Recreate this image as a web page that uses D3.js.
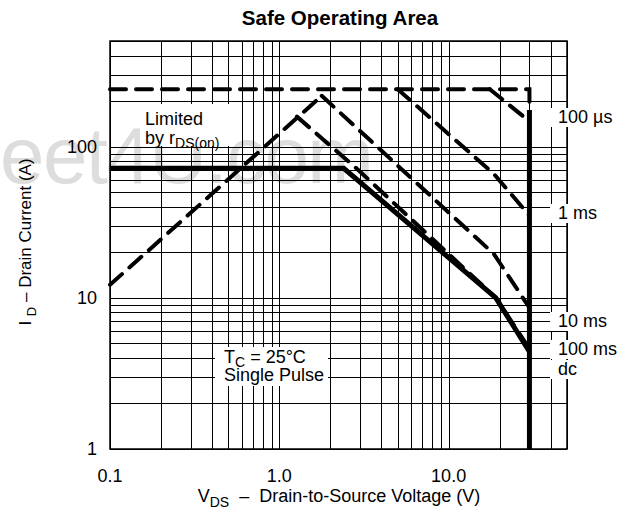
<!DOCTYPE html>
<html>
<head>
<meta charset="utf-8">
<title>Safe Operating Area</title>
<script src="https://d3js.org/d3.v7.min.js"></script>
<style>
  body { margin: 0; background: #fff; }
  text { font-family: "Liberation Sans", Arial, sans-serif; fill: #000; }
</style>
</head>
<body>
<div id="soa"></div>
<script>

// axis ticks
var xTickValues = [0.1, 1, 10]
var xTickLabels = ["0.1", "1.0", "10.0"]
var yTickValues = [1, 10, 100]
var yTickLabels = ["1", "10", "100"]

// boundary curves, [VDS (V), ID (A)]
var idmLimit = [[0.1, 240], [30, 240], [30, 175]]
var rdsLimit = [[0.1, 12.2], [1.78, 217]]
var curve100us = [[17.5, 240], [30, 147]]
var curve1ms = [[5, 240], [18.5, 66], [30, 35]]
var curve10ms = [[1.78, 217], [18.5, 19.5], [30, 8.6]]
var curve100ms = [[1.27, 158], [2.85, 72], [19, 10], [30, 4.6]]
var curveDc = [[0.1, 72], [2.4, 72], [19, 10], [30, 4.4]]
var bvdssLimit = [[30, 175], [30, 1]]

var pulseLabels = ["100 µs", "1 ms", "10 ms", "100 ms", "dc"]

// set the dimensions of the graph
var width = 629
var height = 517

var svg = d3.select("#soa")
  .append("svg")
    .attr("width", width)
    .attr("height", height)

var x = d3.scaleLog().domain([0.1, 50]).range([110, 567])
var y = d3.scaleLog().domain([1, 500]).range([449, 41])

// watermark sits behind everything
svg.append("text")
  .attr("x", 0)
  .attr("y", 183)
  .attr("textLength", 374)
  .style("font-size", "80px")
  .style("fill", "#dddddd")
  .text("eet4U.com")

// grid
var grid = svg.append("g")
  .attr("stroke", "#000")
  .attr("stroke-width", 1)
  .attr("shape-rendering", "crispEdges")

grid.selectAll(".vx")
  .data(x.ticks())
  .enter()
  .append("line")
    .attr("x1", function(d){ return Math.round(x(d)) + 0.5 })
    .attr("x2", function(d){ return Math.round(x(d)) + 0.5 })
    .attr("y1", y.range()[1])
    .attr("y2", y.range()[0])

grid.selectAll(".hy")
  .data(y.ticks())
  .enter()
  .append("line")
    .attr("y1", function(d){ return Math.round(y(d)) + 0.5 })
    .attr("y2", function(d){ return Math.round(y(d)) + 0.5 })
    .attr("x1", x.range()[0])
    .attr("x2", x.range()[1])

svg.append("rect")
  .attr("x", x.range()[0])
  .attr("y", y.range()[1])
  .attr("width", x.range()[1] - x.range()[0])
  .attr("height", y.range()[0] - y.range()[1])
  .attr("fill", "none")
  .attr("stroke", "#000")
  .attr("stroke-width", 1.5)

// white boxes behind the annotations
svg.append("rect").attr("x", 140).attr("y", 104).attr("width", 90).attr("height", 42).attr("fill", "#fff")
svg.append("rect").attr("x", 215).attr("y", 347).attr("width", 113).attr("height", 39).attr("fill", "#fff")

var labelBase = [123, 219, 327, 355, 375]
svg.selectAll(".plab")
  .data(pulseLabels)
  .enter()
  .append("rect")
    .attr("x", 550)
    .attr("y", function(d, i){ return labelBase[i] - 15 })
    .attr("width", function(d){ return d.length * 10 + 12 })
    .attr("height", 19)
    .attr("fill", "#fff")

svg.selectAll(".ptxt")
  .data(pulseLabels)
  .enter()
  .append("text")
    .attr("x", 558)
    .attr("y", function(d, i){ return labelBase[i] })
    .style("font-size", "18px")
    .text(function(d){ return d })

// curves
var line = d3.line()
  .x(function(d){ return x(d[0]) })
  .y(function(d){ return y(d[1]) })

var dashed = [idmLimit, rdsLimit, curve100us, curve1ms, curve10ms, curve100ms]
svg.selectAll(".dash")
  .data(dashed)
  .enter()
  .append("path")
    .attr("d", line)
    .attr("fill", "none")
    .attr("stroke", "#000")
    .attr("stroke-width", 4)
    .attr("stroke-dasharray", "16,10")
    .attr("stroke-linecap", "round")

svg.selectAll(".solid")
  .data([curveDc, bvdssLimit])
  .enter()
  .append("path")
    .attr("d", line)
    .attr("fill", "none")
    .attr("stroke", "#000")
    .attr("stroke-width", 5)

// tick labels
svg.selectAll(".xt")
  .data(xTickValues)
  .enter()
  .append("text")
    .attr("x", function(d){ return x(d) })
    .attr("y", 482)
    .attr("text-anchor", "middle")
    .style("font-size", "18px")
    .text(function(d, i){ return xTickLabels[i] })

svg.selectAll(".yt")
  .data(yTickValues)
  .enter()
  .append("text")
    .attr("x", 97)
    .attr("y", function(d){ return y(d) + 6 })
    .attr("text-anchor", "end")
    .style("font-size", "18px")
    .text(function(d, i){ return yTickLabels[i] })

// title
svg.append("text")
  .attr("x", 340)
  .attr("y", 25)
  .attr("text-anchor", "middle")
  .style("font-size", "20.5px")
  .style("font-weight", "bold")
  .text("Safe Operating Area")

// axis titles
var xt = svg.append("text")
  .attr("x", 339)
  .attr("y", 502)
  .attr("text-anchor", "middle")
  .style("font-size", "18px")
  .style("white-space", "pre")
xt.append("tspan").text("V")
xt.append("tspan").attr("dy", 5).style("font-size", "14px").text("DS")
xt.append("tspan").attr("dy", -5).text("  –  Drain-to-Source Voltage (V)")

var yt = svg.append("text")
  .attr("transform", "translate(31,242) rotate(-90)")
  .attr("text-anchor", "middle")
  .style("font-size", "17px")
  .style("white-space", "pre")
yt.append("tspan").text("I ")
yt.append("tspan").attr("dy", 5).style("font-size", "13px").text("D")
yt.append("tspan").attr("dy", -5).text(" – Drain Current (A)")

// annotations
svg.append("text").attr("x", 145).attr("y", 125).style("font-size", "18px").text("Limited")
var by = svg.append("text").attr("x", 145).attr("y", 144).style("font-size", "18px")
by.append("tspan").text("by r")
by.append("tspan").attr("dy", 4).style("font-size", "14px").text("DS(on)")

var tc = svg.append("text").attr("x", 224).attr("y", 363).style("font-size", "18px")
tc.append("tspan").text("T")
tc.append("tspan").attr("dy", 4).style("font-size", "14px").text("C")
tc.append("tspan").attr("dy", -4).text(" = 25°C")
svg.append("text").attr("x", 224).attr("y", 381).style("font-size", "18px").text("Single Pulse")

</script>
</body>
</html>
